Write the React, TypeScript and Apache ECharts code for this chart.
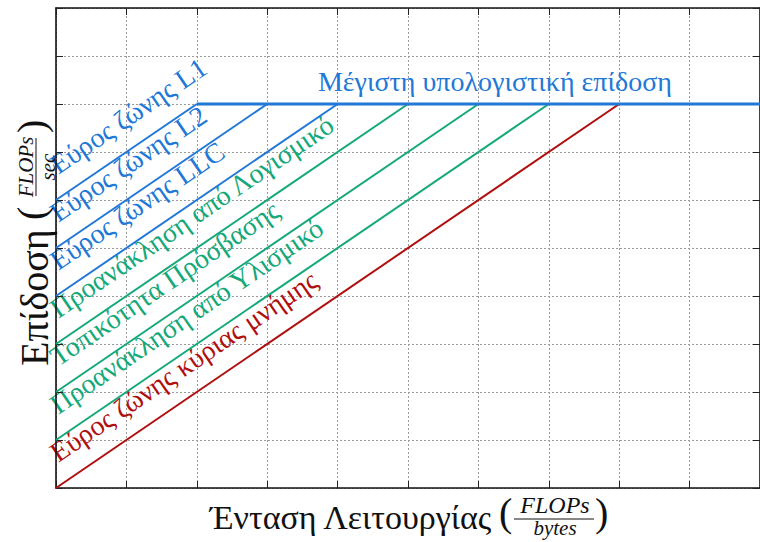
import React, { useEffect, useRef } from "react";
import * as echarts from "echarts";

// Axis extents (data units; the axes carry no tick labels)
const X_MAX = 10;
const Y_MAX = 10;
const TICK_STEP = 1;

// Roofline: peak compute ceiling and bandwidth ceilings
const PEAK = 8;
const ROOF_START_X = 2;
const ROOF_END_X = 10;
const roofLabel = "Μέγιστη υπολογιστική επίδοση";
const roofLabelX = 3.72;

const ceilingNames = [
  "Εύρος ζώνης L1",
  "Εύρος ζώνης L2",
  "Εύρος ζώνης LLC",
  "Προανάκληση από Λογισμικό",
  "Τοπικότητα Πρόσβασης",
  "Προανάκληση από Υλισμικό",
  "Εύρος ζώνης κύριας μνήμης",
];
const ceilingIntercepts = [6, 5, 4, 3, 2, 1, 0];
const ceilingRidgeX = [2, 3, 4, 5, 6, 7, 8];
const ceilingKinds = ["cache", "cache", "cache", "opt", "opt", "opt", "mem"];

const COLORS: Record<string, string> = {
  cache: "#2178d6",
  opt: "#14a87a",
  mem: "#b00f0f",
};
const ROOF_COLOR = "#2178d6";

const SERIF = '"Liberation Serif", "DejaVu Serif", serif';
const LABEL_FS = 28;
const X_TITLE_FS = 34;
const Y_TITLE_FS = 40;

export default function App() {
  const ref = useRef<HTMLDivElement>(null);

  useEffect(() => {
    const el = ref.current!;
    const chart = echarts.init(el, null, { renderer: "svg", width: 760, height: 542 });

    const axisBase = {
      type: "value",
      min: 0,
      interval: TICK_STEP,
      axisLabel: { show: false },
      axisLine: { show: true, onZero: false, lineStyle: { color: "#111", width: 1.6 } },
      axisTick: { show: true, inside: true, length: 7, lineStyle: { color: "#222", width: 1 } },
    };
    const split = { show: true, lineStyle: { color: "#9a9a9a", width: 1, type: [2, 2] } };

    const series: any[] = ceilingNames.map((name, i) => ({
      type: "line",
      name,
      data: [
        [0, ceilingIntercepts[i]],
        [ceilingRidgeX[i], PEAK],
      ],
      showSymbol: false,
      symbol: "none",
      lineStyle: { color: COLORS[ceilingKinds[i]], width: 2 },
      z: 3,
    }));
    series.push({
      type: "line",
      name: "roof",
      data: [
        [ROOF_START_X, PEAK],
        [ROOF_END_X, PEAK],
      ],
      symbol: "none",
      lineStyle: { color: ROOF_COLOR, width: 3 },
      z: 4,
    });

    chart.setOption({
      animation: false,
      grid: { left: 56, top: 8, width: 715, height: 480, containLabel: false },
      xAxis: [
        { ...axisBase, max: X_MAX, position: "bottom", splitLine: split },
        { ...axisBase, max: X_MAX, position: "top", splitLine: { show: false } },
      ],
      yAxis: [
        { ...axisBase, max: Y_MAX, position: "left", splitLine: split },
        { ...axisBase, max: Y_MAX, position: "right", splitLine: { show: false } },
      ],
      series,
    });

    const px = (x: number, y: number) => chart.convertToPixel({ gridIndex: 0 }, [x, y]) as number[];
    const o = px(0, 0);
    const u = px(1, 1);
    const slope = (o[1] - u[1]) / (u[0] - o[0]); // pixel rise per pixel run
    const theta = Math.atan(slope);
    const mid = (fs: number) => fs * 0.32;

    const txt = (text: string, x: number, y: number, font: string, fill = "#111", align = "left") => ({
      type: "text",
      x,
      y,
      style: { text, fill, font, align, verticalAlign: "middle" },
    });

    const graphics: any[] = [];

    // Ceiling labels, written along each line, just above it
    ceilingNames.forEach((name, i) => {
      const s = px(0, ceilingIntercepts[i]);
      const gx = s[0] + 2;
      const gy = s[1] - 2 * slope - 24;
      graphics.push({
        type: "group",
        x: gx,
        y: gy,
        rotation: theta,
        children: [txt(name, 0, -mid(LABEL_FS), `${LABEL_FS}px ${SERIF}`, COLORS[ceilingKinds[i]])],
      });
    });

    // Roof label
    const r = px(roofLabelX, PEAK);
    graphics.push(txt(roofLabel, r[0], r[1] - 14 - mid(LABEL_FS), `${LABEL_FS}px ${SERIF}`, ROOF_COLOR));

    // X axis title with fraction
    const xb = 528; // baseline
    graphics.push({
      type: "group",
      children: [
        txt("Ένταση Λειτουργίας", 210, xb - mid(X_TITLE_FS), `${X_TITLE_FS}px ${SERIF}`),
        txt("(", 499, xb - 3 - mid(40), `40px ${SERIF}`),
        txt("FLOPs", 555, 513 - mid(24), `italic 24px ${SERIF}`, "#111", "center"),
        { type: "line", shape: { x1: 514, y1: 519, x2: 594, y2: 519 }, style: { stroke: "#111", lineWidth: 1 } },
        txt("bytes", 555, 535 - mid(21), `italic 21px ${SERIF}`, "#111", "center"),
        txt(")", 595, xb - 3 - mid(40), `40px ${SERIF}`),
      ],
    });

    // Y axis title (rotated) with fraction; local x runs upward on screen
    graphics.push({
      type: "group",
      x: 47,
      y: 366,
      rotation: Math.PI / 2,
      children: [
        txt("Επίδοση", 0, -mid(Y_TITLE_FS), `${Y_TITLE_FS}px ${SERIF}`),
        txt("(", 146, -3 - mid(40), `40px ${SERIF}`),
        txt("FLOPs", 199, -14 - mid(21), `italic 21px ${SERIF}`, "#111", "center"),
        { type: "line", shape: { x1: 170, y1: -11, x2: 228, y2: -11 }, style: { stroke: "#111", lineWidth: 1 } },
        txt("sec", 199, 8 - mid(21), `italic 21px ${SERIF}`, "#111", "center"),
        txt(")", 233, -3 - mid(40), `40px ${SERIF}`),
      ],
    });

    chart.setOption({ graphic: graphics });

    return () => chart.dispose();
  }, []);

  return (
    <div
      ref={ref}
      style={{ position: "absolute", left: 0, top: 0, width: 760, height: 542, background: "#fff" }}
    />
  );
}
